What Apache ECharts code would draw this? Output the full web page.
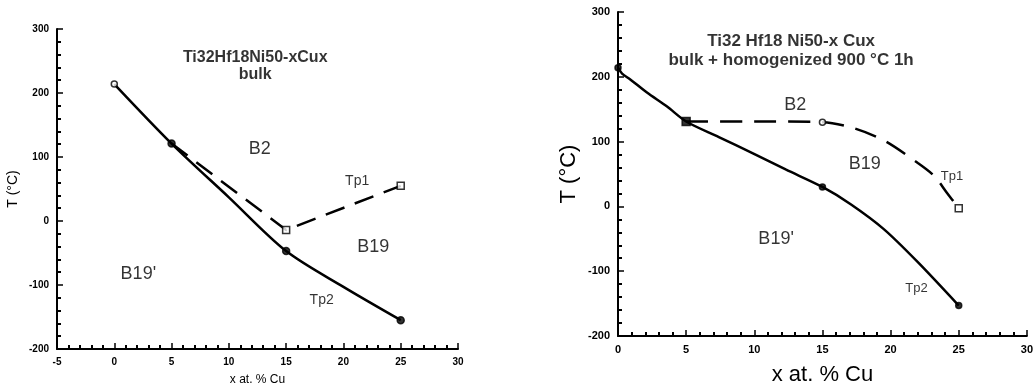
<!DOCTYPE html>
<html>
<head>
<meta charset="utf-8">
<script src="https://cdn.jsdelivr.net/npm/echarts@6/dist/echarts.min.js"></script>
<style>
  html, body { margin: 0; padding: 0; background: #fff; }
  #chart { width: 1036px; height: 391px; }
</style>
</head>
<body>
<div id="chart"></div>
<script>
// left panel: bulk
const leftTp2 = [[0, 214], [5, 121], [10, 37], [15, -47], [20, -103], [25, -155]]
const leftTp1 = [[5, 121], [15, -14], [25, 55]]
const leftOpenCircle = [[0, 214]]
const leftFilled = [[5, 121], [15, -47], [25, -155]]
const leftOpenSquare = [[15, -14], [25, 55]]
const leftLabels = [[12.7, 113, 'B2'], [22.6, -41, 'B19'], [2.1, -83, "B19'"], [21.2, 62, 'Tp1'], [18.1, -123, 'Tp2']]
const leftTitle = [[12.3, 255, 'Ti32Hf18Ni50-xCux'], [12.3, 229, 'bulk']]

// right panel: bulk + homogenized
const rightTp2 = [[0, 214], [0.3, 205], [0.9, 196], [2.1, 176], [3.6, 154], [5, 131], [7.4, 107], [9.9, 82],
  [12.3, 57], [15, 30], [17.1, 3], [19.5, -35], [22, -86], [25, -153]]
const rightTp1 = [[5, 131], [10, 131], [15, 130], [17.1, 122], [19.5, 102], [22, 67], [23.2, 47], [24.1, 22], [25, -3]]
const rightFilled = [[0, 214], [15, 30], [25, -153]]
const rightSquare = [[5, 131]]
const rightOpen = [[15, 130]]
const rightOpenSquare = [[25, -3]]
const rightLabels = [[13, 157, 'B2'], [18.1, 65, 'B19'], [11.6, -50, "B19'"], [24.5, 47, 'Tp1'], [21.9, -126, 'Tp2']]
const rightTitle = [[12.7, 254, 'Ti32 Hf18 Ni50-x Cux'], [12.7, 226, 'bulk + homogenized 900 °C 1h']]

const FONT = 'Liberation Sans, Arial, sans-serif'

function axisCommon(size) {
  return {
    axisLine: { onZero: false, lineStyle: { color: '#000', width: 2 } },
    axisTick: { show: true, inside: true, length: 6, lineStyle: { color: '#000', width: 1.5 } },
    minorTick: { show: true, splitNumber: 5, length: 4, lineStyle: { color: '#000', width: 2 } },
    axisLabel: { color: '#000', fontFamily: FONT, fontWeight: 'bold', fontSize: size },
    splitLine: { show: false }
  }
}

function textSeries(data, idx, size, bold) {
  return {
    type: 'scatter', xAxisIndex: idx, yAxisIndex: idx,
    symbolSize: 0, silent: true,
    data: data.map(d => ({ value: [d[0], d[1]], name: d[2] })),
    label: {
      show: true, position: 'inside', formatter: p => p.name,
      color: '#000', fontFamily: FONT, fontSize: size, fontWeight: bold ? 'bold' : 'normal'
    }
  }
}

function markerSeries(data, idx, symbol, size, fill) {
  return {
    type: 'scatter', xAxisIndex: idx, yAxisIndex: idx, data: data,
    symbol: symbol, symbolSize: size, z: 5,
    itemStyle: { color: fill, borderColor: '#000', borderWidth: 1.5 }
  }
}

const chart = echarts.init(document.getElementById('chart'))
chart.setOption({
  backgroundColor: '#fff',
  animation: false,
  grid: [
    { left: 57, top: 29, width: 401, height: 324 },
    { left: 618, top: 12, width: 413, height: 336 }
  ],
  xAxis: [
    Object.assign(axisCommon(10), {
      gridIndex: 0, type: 'value', min: -5, max: 30, interval: 5,
      name: 'x at. % Cu', nameLocation: 'middle', nameGap: 25,
      nameTextStyle: { color: '#000', fontFamily: FONT, fontSize: 12 }
    }),
    Object.assign(axisCommon(11), {
      gridIndex: 1, type: 'value', min: 0, max: 30, interval: 5,
      name: 'x at. % Cu', nameLocation: 'middle', nameGap: 28,
      nameTextStyle: { color: '#000', fontFamily: FONT, fontSize: 22 }
    })
  ],
  yAxis: [
    Object.assign(axisCommon(10), {
      gridIndex: 0, type: 'value', min: -200, max: 300, interval: 100,
      name: 'T (°C)', nameLocation: 'middle', nameGap: 37,
      nameTextStyle: { color: '#000', fontFamily: FONT, fontSize: 14 }
    }),
    Object.assign(axisCommon(11), {
      gridIndex: 1, type: 'value', min: -200, max: 300, interval: 100,
      name: 'T (°C)', nameLocation: 'middle', nameGap: 38,
      nameTextStyle: { color: '#000', fontFamily: FONT, fontSize: 22 }
    })
  ],
  series: [
    { type: 'line', xAxisIndex: 0, yAxisIndex: 0, data: leftTp2, smooth: 0.3, showSymbol: false,
      lineStyle: { color: '#000', width: 2.5 } },
    { type: 'line', xAxisIndex: 0, yAxisIndex: 0, data: leftTp1, showSymbol: false,
      lineStyle: { color: '#000', width: 2.5, type: [20, 11] } },
    markerSeries(leftOpenCircle, 0, 'circle', 6, '#fff'),
    markerSeries(leftFilled, 0, 'circle', 7, '#000'),
    markerSeries(leftOpenSquare, 0, 'rect', 7, '#fff'),
    textSeries(leftLabels.slice(0, 3), 0, 18, false),
    textSeries(leftLabels.slice(3), 0, 14, false),
    textSeries(leftTitle, 0, 16, true),

    { type: 'line', xAxisIndex: 1, yAxisIndex: 1, data: rightTp2, smooth: 0.3, showSymbol: false,
      lineStyle: { color: '#000', width: 2.5 } },
    { type: 'line', xAxisIndex: 1, yAxisIndex: 1, data: rightTp1, smooth: 0.3, showSymbol: false,
      lineStyle: { color: '#000', width: 2.5, type: [22, 12] } },
    markerSeries(rightFilled, 1, 'circle', 6, '#000'),
    markerSeries(rightSquare, 1, 'rect', 8, '#000'),
    markerSeries(rightOpen, 1, 'circle', 6, '#fff'),
    markerSeries(rightOpenSquare, 1, 'rect', 7, '#fff'),
    textSeries(rightLabels.slice(0, 3), 1, 18, false),
    textSeries(rightLabels.slice(3), 1, 13, false),
    textSeries(rightTitle, 1, 17, true)
  ]
})
</script>
</body>
</html>
